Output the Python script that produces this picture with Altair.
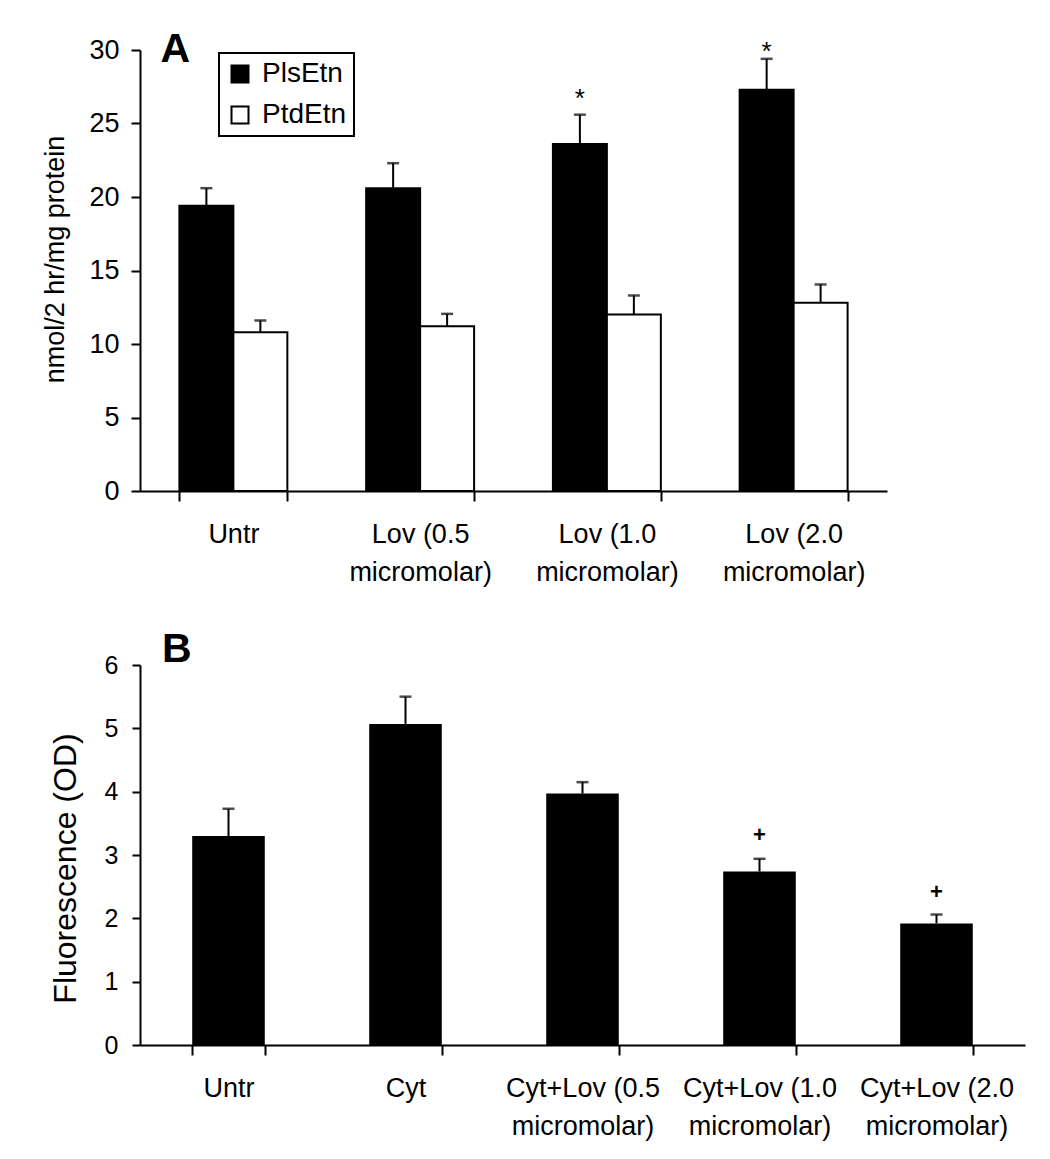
import altair as alt
import pandas as pd

FONT = "Liberation Sans"

# ---------------- Panel A data ----------------
a_categories = ["Untr", "Lov (0.5\nmicromolar)", "Lov (1.0\nmicromolar)", "Lov (2.0\nmicromolar)"]
a_series = ["PlsEtn", "PtdEtn"]
pls_mean = [19.4, 20.6, 23.6, 27.3]
pls_err = [1.2, 1.7, 2.0, 2.1]
ptd_mean = [10.8, 11.2, 12.0, 12.8]
ptd_err = [0.8, 0.85, 1.3, 1.25]
a_marks = ["", "", "*", "*"]
a_mark_y = [0, 0, 27.1, 30.3]

# ---------------- Panel B data ----------------
b_categories = ["Untr", "Cyt", "Cyt+Lov (0.5\nmicromolar)", "Cyt+Lov (1.0\nmicromolar)", "Cyt+Lov (2.0\nmicromolar)"]
b_mean = [3.30, 5.07, 3.97, 2.74, 1.92]
b_err = [0.43, 0.43, 0.18, 0.20, 0.14]
b_marks = ["", "", "", "+", "+"]
b_mark_y = [0, 0, 0, 3.31, 2.42]

rows = []
for i, c in enumerate(a_categories):
    rows.append({"cat": c, "series": "PlsEtn", "mean": pls_mean[i], "top": pls_mean[i] + pls_err[i]})
    rows.append({"cat": c, "series": "PtdEtn", "mean": ptd_mean[i], "top": ptd_mean[i] + ptd_err[i]})
dfA = pd.DataFrame(rows)
annA = pd.DataFrame([
    {"cat": c, "series": "PlsEtn", "mark": m, "mark_y": y}
    for c, m, y in zip(a_categories, a_marks, a_mark_y) if m
])

dfB = pd.DataFrame({"cat": b_categories, "mean": b_mean,
                    "top": [m + e for m, e in zip(b_mean, b_err)]})
annB = pd.DataFrame([
    {"cat": c, "mark": m, "mark_y": y}
    for c, m, y in zip(b_categories, b_marks, b_mark_y) if m
])

axis_common = dict(domainColor="black", domainWidth=2, tickColor="black", tickWidth=2,
                   labelColor="black", labelFont=FONT, titleFont=FONT, titleColor="black",
                   grid=False)

LABEL_EXPR = "isValid(datum.value) ? split(datum.value, '\\n') : ''"


def xA():
    return alt.X("cat:N",
                 scale=alt.Scale(domain=a_categories, paddingInner=0.422, paddingOuter=0.211),
                 axis=alt.Axis(title=None, labelAngle=0, labelFontSize=27, labelLineHeight=38,
                               labelExpr=LABEL_EXPR, tickBand="extent",
                               tickSize=10, labelPadding=20, labelAlign="center", **axis_common))


def xoA():
    return alt.XOffset("series:N", scale=alt.Scale(domain=a_series, paddingInner=0, paddingOuter=0))


def yA(field):
    return alt.Y(field, scale=alt.Scale(domain=[0, 30], nice=False),
                 axis=alt.Axis(values=[0, 5, 10, 15, 20, 25, 30], title="nmol/2 hr/mg protein",
                               titleFontSize=27, titleFontWeight="normal", titleX=-71, titleY=209,
                               titleBaseline="bottom", labelFontSize=27, tickSize=9,
                               labelPadding=12, **axis_common))


baseA = alt.Chart(dfA)
barsA = baseA.mark_bar(stroke="black", strokeWidth=2).encode(
    x=xA(), xOffset=xoA(), y=yA("mean:Q"),
    fill=alt.Fill("series:N", scale=alt.Scale(domain=a_series, range=["black", "white"]),
                  legend=alt.Legend(title=None, orient="none", legendX=79, legendY=3,
                                    direction="vertical", symbolType="square", symbolSize=289,
                                    symbolStrokeColor="black", symbolStrokeWidth=2,
                                    labelFontSize=28, labelFont=FONT, labelColor="black",
                                    labelOffset=8, rowPadding=13, padding=7,
                                    strokeColor="black", fillColor="white")),
)
rulesA = baseA.mark_rule(color="black", strokeWidth=2).encode(
    x=xA(), xOffset=xoA(), y=yA("mean:Q"), y2="top:Q")
capsA = baseA.mark_tick(color="black", thickness=2.5, size=12).encode(
    x=xA(), xOffset=xoA(), y=yA("top:Q"))
starsA = alt.Chart(annA).mark_text(fontSize=26, baseline="middle", dy=6, color="black",
                                   font=FONT).encode(
    x=xA(), xOffset=xoA(), y=yA("mark_y:Q"), text="mark:N")
letterA = alt.Chart(pd.DataFrame({"t": ["A"]})).mark_text(
    fontSize=41, fontWeight="bold", align="left", baseline="alphabetic", color="black",
    font=FONT).encode(x=alt.value(20.5), y=alt.value(12), text="t:N")

panelA = alt.layer(barsA, rulesA, capsA, starsA, letterA).properties(width=747, height=441)


def xB():
    return alt.X("cat:N",
                 scale=alt.Scale(domain=b_categories, paddingInner=0.59, paddingOuter=0.295),
                 axis=alt.Axis(title=None, labelAngle=0, labelFontSize=27, labelLineHeight=38,
                               labelExpr=LABEL_EXPR, tickBand="extent",
                               tickSize=10, labelPadding=20, labelAlign="center", **axis_common))


def yB(field):
    return alt.Y(field, scale=alt.Scale(domain=[0, 6], nice=False),
                 axis=alt.Axis(values=[0, 1, 2, 3, 4, 5, 6], title="Fluorescence (OD)",
                               titleFontSize=32, titleFontWeight="normal", titleX=-58, titleY=203,
                               titleBaseline="bottom", labelFontSize=25, tickSize=8,
                               labelPadding=14, **axis_common))


baseB = alt.Chart(dfB)
barsB = baseB.mark_bar(color="black").encode(x=xB(), y=yB("mean:Q"))
rulesB = baseB.mark_rule(color="black", strokeWidth=2).encode(x=xB(), y=yB("mean:Q"), y2="top:Q")
capsB = baseB.mark_tick(color="black", thickness=2.5, size=12).encode(x=xB(), y=yB("top:Q"))
plusB = alt.Chart(annB).mark_text(fontSize=22, fontWeight="bold", baseline="middle",
                                  color="black", font=FONT).encode(
    x=xB(), y=yB("mark_y:Q"), text="mark:N")
letterB = alt.Chart(pd.DataFrame({"t": ["B"]})).mark_text(
    fontSize=41, fontWeight="bold", align="left", baseline="alphabetic", color="black",
    font=FONT).encode(x=alt.value(22), y=alt.value(-3), text="t:N")

panelB = alt.layer(barsB, rulesB, capsB, plusB, letterB).properties(width=885, height=380)

chart = alt.vconcat(panelA, panelB, spacing=44).properties(
    padding={"left": 33, "top": 21, "right": 10, "bottom": 10},
    background="white",
).configure(font=FONT).configure_view(stroke=None).configure_legend(strokeWidth=2)

chart.save("out.html", embed_options={"renderer": "svg", "actions": False})
